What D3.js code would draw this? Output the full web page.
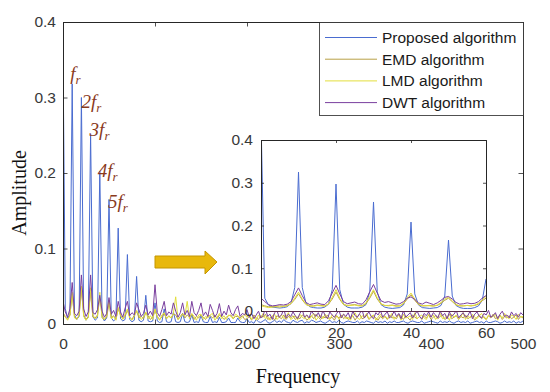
<!DOCTYPE html>
<html>
<head>
<meta charset="utf-8">
<script src="https://cdn.jsdelivr.net/npm/d3@7"></script>
<style>
body{margin:0;background:#fff;}
svg{display:block;}
</style>
</head>
<body>
<svg></svg>
<script>
// main spectrum, 0..500 Hz every 2.5 Hz, values in 1/1000
var mainStep = 2.5;
var proposedMain = [
360,20,8,12,318,12,6,10,300,11,5,9,252,10,5,8,202,9,4,8,
165,8,4,7,127,7,4,6,92,6,3,5,63,5,3,5,38,4,3,4,
28,4,2,3,20,3,2,3,16,3,2,3,14,3,2,3,12,2,3,2,
11,3,2,2,10,2,3,2,9,2,2,3,8,2,2,2,8,3,2,2,
7,2,3,1,6,3,2,4,6,2,1,3,5,2,4,2,6,3,2,1,
5,3,2,4,5,1,3,2,5,4,2,3,4,2,1,3,5,2,3,2,
5,2,1,3,4,3,2,2,4,1,3,2,4,3,2,1,4,2,3,2,
4,1,3,2,4,2,2,3,4,2,1,3,4,3,2,2,4,1,2,3,
4,3,2,1,4,2,3,2,4,2,1,3,4,2,3,2,4,1,2,3,
4,2,3,1,4,2,2,3,4,3,1,2,4,2,3,2,4,1,3,2,
4];
var emdMain = [
15,10,6,12,40,9,7,11,45,12,6,10,42,9,8,12,35,11,6,9,
28,8,11,6,20,12,7,10,18,9,6,12,17,8,10,7,15,11,6,9,
18,10,6,9,14,7,11,8,13,12,6,10,14,8,12,9,13,6,10,8,
12,9,6,11,11,8,12,7,12,10,6,9,11,12,7,10,10,8,11,6,
7,10,5,12,8,6,11,9,13,6,8,10,5,11,9,7,12,6,10,8,
11,6,9,7,12,10,5,8,11,7,13,9,6,10,8,12,7,9,5,11,
8,12,7,10,6,9,11,5,10,13,7,8,12,6,9,11,8,5,10,7,
10,6,12,8,9,7,13,10,6,11,8,5,12,9,7,10,6,11,8,12,
6,9,11,7,10,12,6,8,13,7,9,11,6,10,8,12,7,9,11,5,
9,12,7,10,6,11,8,13,7,9,12,6,10,8,11,7,9,12,6,10,
8];
var lmdMain = [
12,9,5,11,42,8,6,12,50,10,5,9,48,12,7,10,42,8,6,11,
32,7,10,5,22,11,6,13,20,8,5,10,18,12,6,9,16,7,11,6,
20,9,5,12,15,7,10,8,14,36,6,9,13,11,30,7,14,10,5,12,
13,6,10,8,12,14,5,9,14,7,11,6,12,10,7,13,11,6,9,12,
9,13,6,10,5,12,8,14,7,10,5,11,13,6,9,12,7,10,15,6,
8,11,5,13,9,7,12,6,10,14,5,9,11,7,13,8,6,12,9,11,
6,10,13,7,9,5,12,15,8,6,11,9,14,7,10,12,5,9,13,8,
11,7,9,14,6,10,12,5,13,8,9,11,6,15,7,10,12,8,6,13,
9,12,6,10,14,7,8,11,5,13,9,12,7,10,15,6,11,8,13,9,
7,11,14,8,6,12,9,10,13,5,11,8,14,9,7,12,10,6,13,9,
10];
var dwtMain = [
30,16,9,20,55,14,11,17,65,20,10,16,65,15,13,19,38,17,9,14,
35,13,18,10,30,16,9,21,30,11,15,12,28,19,10,14,25,12,17,11,
52,15,10,19,30,11,16,13,28,17,9,15,28,12,18,10,30,15,11,18,
28,11,16,10,26,18,9,14,27,10,17,12,25,15,11,19,24,10,14,12,
19,9,14,7,12,17,8,11,21,10,13,6,15,18,9,12,20,8,13,10,
16,11,7,14,19,9,12,8,17,13,10,15,8,18,11,7,16,12,9,14,
18,8,13,10,15,7,17,11,9,14,19,8,12,16,10,7,15,12,18,9,
13,16,8,11,17,10,14,7,18,9,12,15,8,13,17,10,7,14,11,16,
9,15,12,8,17,11,14,7,16,10,13,18,8,12,15,9,11,17,7,13,
16,10,8,14,12,18,9,11,15,7,13,17,10,12,8,16,11,14,9,15,
12];

// zoomed spectrum, 0..60 Hz every 1 Hz, values in 1/1000
var zoomStep = 1;
var proposedZoom = [
450,30,14,9,8,7,8,10,18,55,325,55,18,10,8,7,7,9,16,50,
297,50,16,9,7,7,7,9,15,45,255,45,15,9,7,6,7,8,14,40,
208,40,14,8,7,6,7,8,13,35,166,35,13,8,6,6,6,8,12,25,
75];
var emdZoom = [
15,12,10,10,11,12,11,13,17,27,40,26,15,12,12,14,13,12,16,28,
44,27,15,13,14,15,13,12,17,30,46,28,16,13,13,14,12,12,17,28,
38,25,15,12,12,13,12,13,18,25,30,22,14,12,12,13,12,13,16,24,
30];
var lmdZoom = [
12,10,8,9,10,9,11,12,18,30,44,28,16,12,11,13,12,11,17,32,
50,30,16,12,13,14,12,12,19,34,50,31,17,13,12,13,11,12,18,32,
42,28,16,12,13,12,11,14,20,28,32,24,15,12,12,13,12,14,18,26,
34];
var dwtZoom = [
30,22,15,12,13,15,14,16,22,38,54,36,20,15,17,19,16,15,24,42,
60,40,22,17,19,21,17,16,26,45,62,42,24,20,22,19,16,17,22,30,
33,27,19,16,21,18,15,19,25,32,34,28,20,16,17,19,17,18,22,30,
36];

var seriesNames = ["Proposed algorithm","EMD algorithm","LMD algorithm","DWT algorithm"];
var seriesColors = ["#4a6cd0","#b9a046","#e3df3c","#7a3f9e"];
var harmonicLabels = ["","2","3","4","5"];
var harmonicFreqs = [10,20,30,40,50];
var mainXTicks = [0,100,200,300,400,500];
var mainYTicks = [0,0.1,0.2,0.3,0.4];
var zoomXTicks = [0,20,40,60];
var zoomYTicks = [0,0.1,0.2,0.3,0.4];

var svgWidth = 550, svgHeight = 392;
var svg = d3.select("svg").attr("width", svgWidth).attr("height", svgHeight);

var axisColor = "#262626", labelColor = "#383838";
var sans = "'Liberation Sans', Arial, sans-serif";
var serif = "'Liberation Serif', 'Times New Roman', serif";

function toPoints(arr, step) {
  return arr.map(function(v, i) { return [i * step, v / 1000]; });
}

// main axes
var x = d3.scaleLinear().domain([0,500]).range([63,523]);
var y = d3.scaleLinear().domain([0,0.4]).range([324,22]);

svg.append("clipPath").attr("id","clipMain").append("rect")
  .attr("x",63).attr("y",22).attr("width",460).attr("height",302);

var mainSeries = [proposedMain, emdMain, lmdMain, dwtMain];
var line = d3.line().x(function(d){ return x(d[0]); }).y(function(d){ return y(d[1]); });

var gMain = svg.append("g").attr("clip-path","url(#clipMain)");
mainSeries.forEach(function(s, k) {
  gMain.append("path")
    .attr("d", line(toPoints(s, mainStep)))
    .attr("fill","none")
    .attr("stroke", seriesColors[k])
    .attr("stroke-width",1);
});

function styleAxis(g, showText) {
  g.select(".domain").attr("stroke", axisColor).attr("stroke-width",1);
  g.selectAll(".tick line").attr("stroke", axisColor).attr("stroke-width",0.8);
  g.selectAll(".tick text").attr("fill", labelColor)
    .style("font-family", sans).style("font-size","15.5px");
  if (!showText) g.selectAll(".tick text").remove();
}

var gx = svg.append("g").attr("transform","translate(0,324)")
  .call(d3.axisBottom(x).tickValues(mainXTicks).tickSizeInner(-4.5).tickSizeOuter(0).tickPadding(14).tickFormat(d3.format("d")));
styleAxis(gx, true);
var gxt = svg.append("g").attr("transform","translate(0,22)")
  .call(d3.axisTop(x).tickValues(mainXTicks).tickSizeInner(-4.5).tickSizeOuter(0));
styleAxis(gxt, false);
var gy = svg.append("g").attr("transform","translate(63,0)")
  .call(d3.axisLeft(y).tickValues(mainYTicks).tickSizeInner(-4.5).tickSizeOuter(0).tickPadding(7).tickFormat(function(d){ return d === 0 ? "0" : d3.format(".1f")(d); }));
styleAxis(gy, true);
var gyr = svg.append("g").attr("transform","translate(523,0)")
  .call(d3.axisRight(y).tickValues(mainYTicks).tickSizeInner(-4.5).tickSizeOuter(0));
styleAxis(gyr, false);

// harmonic labels, placed beside each peak
var labelOffsets = [[-2,-4],[0,10],[-1,2],[-2,6],[-1,9]];
harmonicFreqs.forEach(function(f, k) {
  var v = proposedMain[f / mainStep] / 1000;
  var t = svg.append("text")
    .attr("x", x(f) + labelOffsets[k][0])
    .attr("y", y(v) + labelOffsets[k][1])
    .attr("fill","#8a3a1c")
    .style("font-family", serif).style("font-style","italic").style("font-size","19px");
  t.append("tspan").text(harmonicLabels[k] + "f");
  t.append("tspan").attr("dy",4).style("font-size","13px").text("r");
});

// arrow
svg.append("path")
  .attr("d","M155,256L205,256L205,251L217,262L205,274L205,268L155,268Z")
  .attr("fill","#e8b80c").attr("stroke","#c49600").attr("stroke-width",1);

// inset
var xi = d3.scaleLinear().domain([0,60]).range([261,486]);
var yi = d3.scaleLinear().domain([0,0.4]).range([311,140]);

svg.append("rect").attr("x",261).attr("y",140).attr("width",225).attr("height",171).attr("fill","#fff");
svg.append("clipPath").attr("id","clipZoom").append("rect")
  .attr("x",261).attr("y",140).attr("width",225).attr("height",171);

var zoomSeries = [proposedZoom, emdZoom, lmdZoom, dwtZoom];
var lineZ = d3.line().x(function(d){ return xi(d[0]); }).y(function(d){ return yi(d[1]); });
var gZoom = svg.append("g").attr("clip-path","url(#clipZoom)");
zoomSeries.forEach(function(s, k) {
  gZoom.append("path")
    .attr("d", lineZ(toPoints(s, zoomStep)))
    .attr("fill","none")
    .attr("stroke", seriesColors[k])
    .attr("stroke-width",1);
});

var gxi = svg.append("g").attr("transform","translate(0,311)")
  .call(d3.axisBottom(xi).tickValues(zoomXTicks).tickSizeInner(-3).tickSizeOuter(0).tickPadding(16));
styleAxis(gxi, true);
gxi.select(".domain").attr("stroke","#5a2a4a");
var gxit = svg.append("g").attr("transform","translate(0,140)")
  .call(d3.axisTop(xi).tickValues(zoomXTicks).tickSizeInner(-3).tickSizeOuter(0));
styleAxis(gxit, false);
var gyi = svg.append("g").attr("transform","translate(261,0)")
  .call(d3.axisLeft(yi).tickValues(zoomYTicks).tickSizeInner(-3).tickSizeOuter(0).tickPadding(8).tickFormat(function(d){ return d === 0 ? "0" : d3.format(".1f")(d); }));
styleAxis(gyi, true);
var gyir = svg.append("g").attr("transform","translate(486,0)")
  .call(d3.axisRight(yi).tickValues(zoomYTicks).tickSizeInner(-3).tickSizeOuter(0));
styleAxis(gyir, false);

// legend
var legend = svg.append("g");
legend.append("rect").attr("x",319.5).attr("y",22.5).attr("width",204).attr("height",93)
  .attr("fill","#fff").attr("stroke",axisColor).attr("stroke-width",0.8);
seriesNames.forEach(function(name, k) {
  var ly = 37.5 + k * 21.7;
  legend.append("line").attr("x1",325).attr("x2",377).attr("y1",ly).attr("y2",ly)
    .attr("stroke", seriesColors[k]).attr("stroke-width",1);
  legend.append("text").attr("x",382).attr("y",ly).attr("dy","0.35em")
    .attr("fill","#1a1a1a")
    .style("font-family", sans).style("font-size","15.5px").text(name);
});

// axis titles
svg.append("text").attr("x",298).attr("y",383).attr("text-anchor","middle")
  .attr("fill","#111").style("font-family", serif).style("font-size","20px").text("Frequency");
svg.append("text").attr("transform","translate(26,193) rotate(-90)").attr("text-anchor","middle")
  .attr("fill","#111").style("font-family", serif).style("font-size","20px").text("Amplitude");
</script>
</body>
</html>
